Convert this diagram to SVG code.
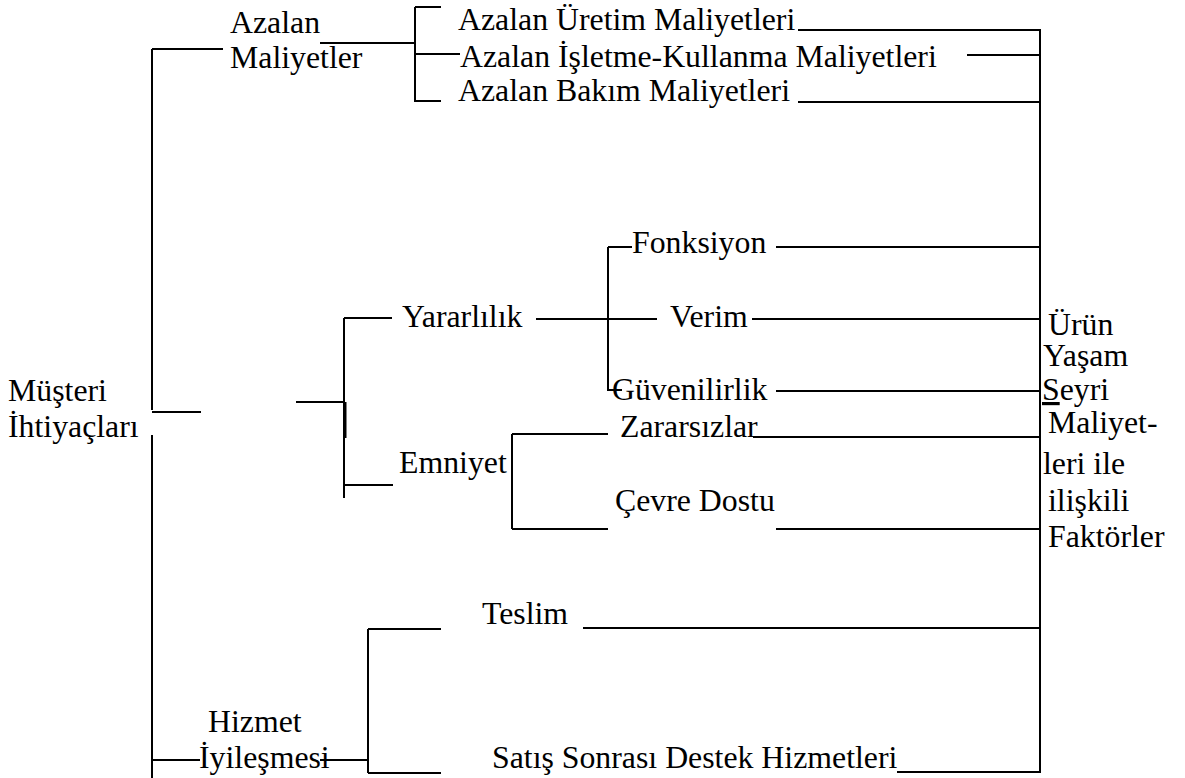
<svg xmlns="http://www.w3.org/2000/svg" width="1185" height="778" viewBox="0 0 1185 778">
  <style>
    .t text { font-family: "Liberation Serif", "Times New Roman", serif; font-size: 31.8px; fill: #000; }
    .ln { fill: none; stroke: #000; stroke-width: 2; }
  </style>
  <rect width="1185" height="778" fill="#fff"/>

  <!-- tree connectors -->
  <g id="connectors" class="ln">
    <!-- root trunk -->
    <path d="M152 49 V410 M152 49 H223 M152 412 H201 M152 435 V778"/>
    <!-- Azalan Maliyetler branch -->
    <path d="M320 43 H415 M415 7 V102 M415 7 H441 M415 54 H460 M415 101 H441"/>
    <path d="M798 30 H1040 M967 55 H1040 M798 102 H1040"/>
    <!-- middle group -->
    <path d="M296 402 H344 M344 318 V498 M344 318 H392 M344 485 H393"/>
    <path d="M345 402 V438" stroke-width="3"/>
    <!-- Yararlilik -->
    <path d="M536 319 H657 M608 247 V391 M608 247 H632 M608 390 H622"/>
    <path d="M776 247 H1040 M752 319 H1040 M776 391 H1040"/>
    <!-- Emniyet -->
    <path d="M512 434 V529 M512 434 H608 M512 529 H608"/>
    <path d="M753 437 H1040 M776 529 H1040"/>
    <!-- Hizmet Iyilesmesi -->
    <path d="M152 760 H200 M320 760 H368 M368 629 V773 M368 629 H441 M368 773 H441"/>
    <path d="M583 628 H1040 M897 772 H1040"/>
    <!-- collector -->
    <path d="M1040 29 V773"/>
  </g>

  <g class="t">
    <g id="musteri-ihtiyaclari">
      <text x="8" y="401">Müşteri</text>
      <text x="8" y="437">İhtiyaçları</text>
    </g>
    <g id="azalan-maliyetler">
      <text x="230" y="33">Azalan</text>
      <text x="230" y="68">Maliyetler</text>
    </g>
    <g id="uretim"><text x="458" y="30">Azalan Üretim Maliyetleri</text></g>
    <g id="isletme"><text x="460" y="67">Azalan İşletme-Kullanma Maliyetleri</text></g>
    <g id="bakim"><text x="458" y="101">Azalan Bakım Maliyetleri</text></g>

    <g id="yararlilik"><text x="402" y="327">Yararlılık</text></g>
    <g id="fonksiyon"><text x="632" y="253">Fonksiyon</text></g>
    <g id="verim"><text x="670" y="327">Verim</text></g>
    <g id="guvenilirlik"><text x="612" y="400">Güvenilirlik</text></g>

    <g id="emniyet"><text x="399" y="473">Emniyet</text></g>
    <g id="zararsizlar"><text x="620" y="437">Zararsızlar</text></g>
    <g id="cevre-dostu"><text x="615" y="511">Çevre Dostu</text></g>

    <g id="hizmet-iyilesmesi">
      <text x="208" y="732">Hizmet</text>
      <text x="199" y="768">İyileşmesi</text>
    </g>
    <g id="teslim"><text x="482" y="624">Teslim</text></g>
    <g id="satis-sonrasi"><text x="492" y="768">Satış Sonrası Destek Hizmetleri</text></g>

    <g id="yasam-seyri">
      <text x="1048" y="335">Ürün</text>
      <text x="1043" y="366">Yaşam</text>
      <text x="1042" y="400"><tspan text-decoration="underline">S</tspan>eyri</text>
      <text x="1048" y="433">Maliyet-</text>
      <text x="1043" y="474">leri ile</text>
      <text x="1048" y="511">ilişkili</text>
      <text x="1048" y="547">Faktörler</text>
    </g>
  </g>
</svg>
